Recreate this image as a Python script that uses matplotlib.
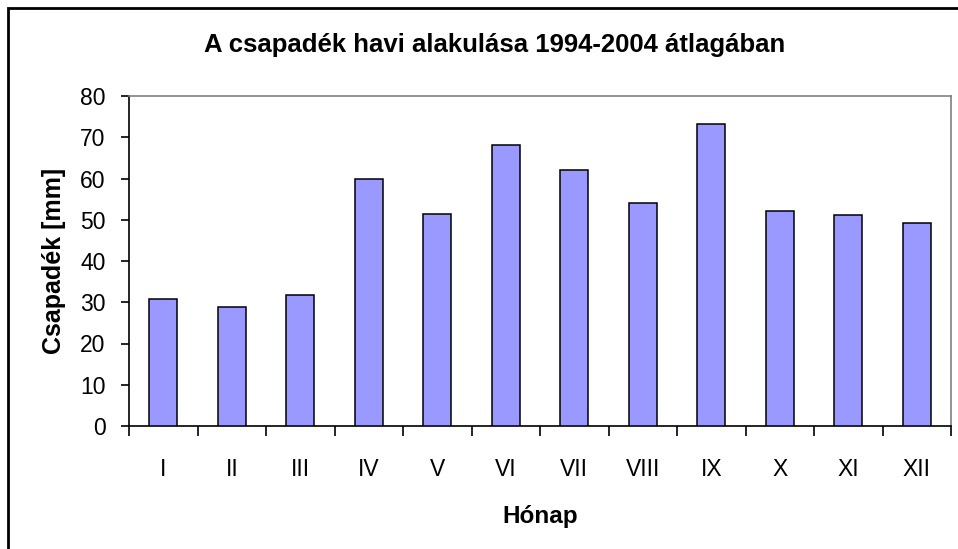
import matplotlib.pyplot as plt
from matplotlib.patches import Rectangle
import numpy as np

plt.rcParams['font.family'] = ['Liberation Sans', 'DejaVu Sans']

months = ['I', 'II', 'III', 'IV', 'V', 'VI', 'VII', 'VIII', 'IX', 'X', 'XI', 'XII']
precip = [30.7, 28.8, 31.7, 60.0, 51.3, 68.2, 62.0, 54.1, 73.2, 52.2, 51.2, 49.3]
yticks = [0, 10, 20, 30, 40, 50, 60, 70, 80]

W, H = 958, 549
fig = plt.figure(figsize=(W / 100, H / 100), dpi=100)
ax = fig.add_axes([129 / W, 1 - 426 / H, 822 / W, 330 / H])

x = np.arange(len(months))
ax.bar(x, precip, width=0.41, color='#9999FF', edgecolor='black', linewidth=1.1, zorder=3)

ax.set_xlim(-0.5, len(months) - 0.5)
ax.set_ylim(0, 80)
ax.set_yticks(yticks)
ax.set_xticks(x)
ax.set_xticklabels(months)
ax.set_xticks(np.arange(-0.5, len(months), 1), minor=True)
ax.tick_params(axis='x', which='major', length=0, pad=23, labelsize=16.5)
ax.tick_params(axis='x', which='minor', length=7, width=1.2, direction='out')
ax.tick_params(axis='y', length=6, width=1.2, direction='out', pad=11, labelsize=16.5)

for s in ['left', 'bottom']:
    ax.spines[s].set_color('black')
    ax.spines[s].set_linewidth(1.2)
for s in ['top', 'right']:
    ax.spines[s].set_color('#808080')
    ax.spines[s].set_linewidth(1.2)

ax.set_xlabel('Hónap', fontsize=17.5, fontweight='bold', labelpad=17)
ax.set_ylabel('Csapadék [mm]', fontsize=18, fontweight='bold', labelpad=10)
fig.text(495 / W, 1 - 45 / H, 'A csapadék havi alakulása 1994-2004 átlagában',
         ha='center', va='center', fontsize=18.5, fontweight='bold')

# outer chart frame (only left and top edges visible)
fig.patches.append(Rectangle((8 / W, -0.1), 1.2, 1.1 - 8 / H, transform=fig.transFigure,
                             fill=False, edgecolor='black', linewidth=2, zorder=10))

fig.savefig('out.png', dpi=100)
